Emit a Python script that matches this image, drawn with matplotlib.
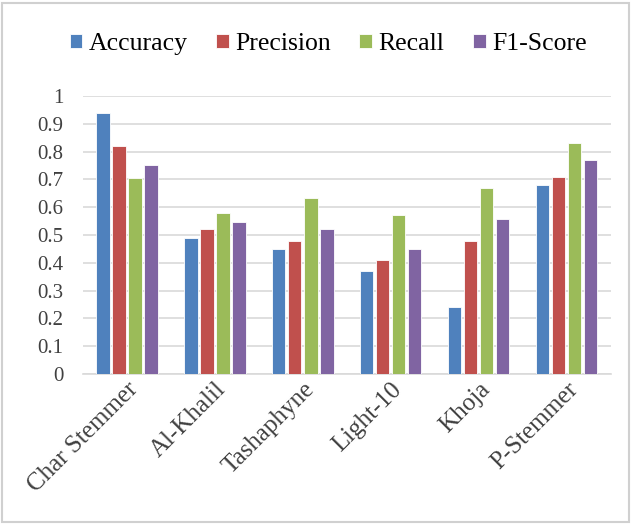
import numpy as np
import matplotlib.pyplot as plt
from matplotlib.patches import Rectangle

# data
stemmers = ['Char Stemmer', 'Al-Khalil', 'Tashaphyne', 'Light-10', 'Khoja', 'P-Stemmer']
accuracy = [0.94, 0.49, 0.45, 0.37, 0.24, 0.68]
precision = [0.82, 0.52, 0.48, 0.41, 0.48, 0.71]
recall = [0.705, 0.58, 0.632, 0.572, 0.668, 0.83]
f1_score = [0.75, 0.548, 0.52, 0.45, 0.557, 0.77]

metrics = ['Accuracy', 'Precision', 'Recall', 'F1-Score']
colors = ['#4F81BD', '#C0504D', '#9BBB59', '#8064A2']
yticks = [0, 0.1, 0.2, 0.3, 0.4, 0.5, 0.6, 0.7, 0.8, 0.9, 1]
ytick_labels = ['0', '0.1', '0.2', '0.3', '0.4', '0.5', '0.6', '0.7', '0.8', '0.9', '1']

plt.rcParams['font.family'] = ['Liberation Serif', 'DejaVu Serif']

fig = plt.figure(figsize=(6.31, 5.24), dpi=100)
ax = fig.add_axes([0.1315, 0.286, 0.8365, 0.531])

x = np.arange(len(stemmers))
step = 0.182
width = 0.15
series = [accuracy, precision, recall, f1_score]
for i, (vals, name, c) in enumerate(zip(series, metrics, colors)):
    ax.bar(x + (i - 1.5) * step, vals, width, color=c, edgecolor='white',
           linewidth=0.6, label=name, zorder=3)

ax.set_xlim(-0.5, len(stemmers) - 0.5)
ax.set_ylim(0, 1)
ax.set_yticks(yticks)
ax.set_yticklabels(ytick_labels, fontsize=15, color='#404040')
ax.set_xticks(x)
ax.set_xticklabels(stemmers, rotation=45, ha='right', rotation_mode='anchor',
                   fontsize=18, color='#404040')
ax.tick_params(axis='y', length=0, pad=14)
ax.tick_params(axis='x', length=0, pad=3)
ax.yaxis.grid(True, color='#d9d9d9', linewidth=1.2, zorder=0)
ax.set_axisbelow(True)
for s in ['top', 'right', 'left']:
    ax.spines[s].set_visible(False)
ax.spines['bottom'].set_color('#d9d9d9')
ax.spines['bottom'].set_linewidth(1.2)

fig.legend(loc='center', bbox_to_anchor=(0.52, 1 - 44 / 524), ncol=4,
           frameon=False, fontsize=18.5, handlelength=0.5, handleheight=0.5,
           handletextpad=0.25, columnspacing=1.1)

# light grey frame round the picture
fig.patches.append(Rectangle((0.003, 0.003), 0.994, 0.992, transform=fig.transFigure,
                             fill=False, edgecolor='#d0d0d0', linewidth=1.5))

fig.savefig('out.png', dpi=100)
